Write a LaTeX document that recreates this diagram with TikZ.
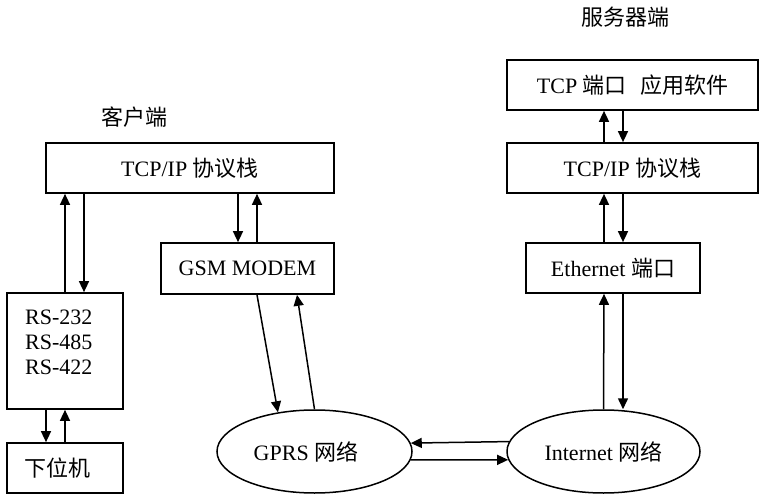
\documentclass[tikz,border=0pt]{standalone}
\usepackage{fontspec}
\setmainfont{Liberation Serif}
\newfontfamily\cjk{Noto Sans CJK SC}
\usetikzlibrary{arrows.meta,shapes.geometric}
\begin{document}
\begin{tikzpicture}[x=1pt,y=-1pt,
  txt/.style={font=\fontsize{22}{25}\selectfont},
  box/.style={draw,line width=1.7pt,rectangle,inner sep=0pt,txt},
  oval/.style={draw,line width=1.5pt,ellipse,inner sep=0pt,txt},
  lbl/.style={inner sep=0pt,txt},
  arr/.style={line width=1.5pt,-{Triangle[length=11pt,width=10pt]}}]
\useasboundingbox (0,0) rectangle (766,500);

% client side
\node[lbl] (client) at (134.5,117) {\cjk 客户端};
\node[box,minimum width=288,minimum height=50] (tcpc) at (190,168) {TCP/IP {\cjk 协议栈}};
\node[box,minimum width=173,minimum height=51] (gsm) at (247.5,268.5) {GSM MODEM};
\node[box,minimum width=116,minimum height=116] (rs) at (65,351) {};
\node[lbl,anchor=west,align=left] (rstext) at (25,342) {RS-232\\RS-485\\RS-422};
\node[box,minimum width=116,minimum height=50] (lower) at (65,468) {};
\node[lbl] (lowertext) at (57.5,468) {\cjk 下位机};

% networks
\node[oval,minimum width=195,minimum height=83] (gprs) at (314.5,451.5) {};
\node[lbl] (gprstext) at (306,452) {GPRS {\cjk 网络}};
\node[oval,minimum width=193,minimum height=83] (inet) at (603.5,451.5) {Internet {\cjk 网络}};

% server side
\node[lbl] (server) at (625,17) {\cjk 服务器端};
\node[box,minimum width=251,minimum height=50] (app) at (632.5,85) {TCP {\cjk 端口}\hspace{0.6em}{\cjk 应用软件}};
\node[box,minimum width=251,minimum height=50] (tcps) at (632.5,168) {TCP/IP {\cjk 协议栈}};
\node[box,minimum width=174,minimum height=50] (eth) at (613,268) {Ethernet {\cjk 端口}};

% client arrows
\draw[arr] (rs.north -| 65,0) -- (tcpc.south -| 65,0);
\draw[arr] (tcpc.south -| 84,0) -- (rs.north -| 84,0);
\draw[arr] (tcpc.south -| 238,0) -- (gsm.north -| 238,0);
\draw[arr] (gsm.north -| 257,0) -- (tcpc.south -| 257,0);
\draw[arr] (rs.south -| 46,0) -- (lower.north -| 46,0);
\draw[arr] (lower.north -| 65,0) -- (rs.south -| 65,0);

% GSM <-> GPRS
\draw[arr] (gsm.south -| 257,0) -- (gprs.133);
\draw[arr] (gprs.north) -- (gsm.south -| 297,0);

% GPRS <-> Internet
\draw[arr] (inet.174.9) -- (gprs.5.1);
\draw[arr] (gprs.-5.1) -- (inet.185.1);

% server arrows
\draw[arr] (inet.north) -- (eth.south -| 604,0);
\draw[arr] (eth.south -| 623,0) -- (inet.north -| 623,0);
\draw[arr] (eth.north -| 604,0) -- (tcps.south -| 604,0);
\draw[arr] (tcps.south -| 623,0) -- (eth.north -| 623,0);
\draw[arr] (tcps.north -| 604,0) -- (app.south -| 604,0);
\draw[arr] (app.south -| 623,0) -- (tcps.north -| 623,0);
\end{tikzpicture}
\end{document}
